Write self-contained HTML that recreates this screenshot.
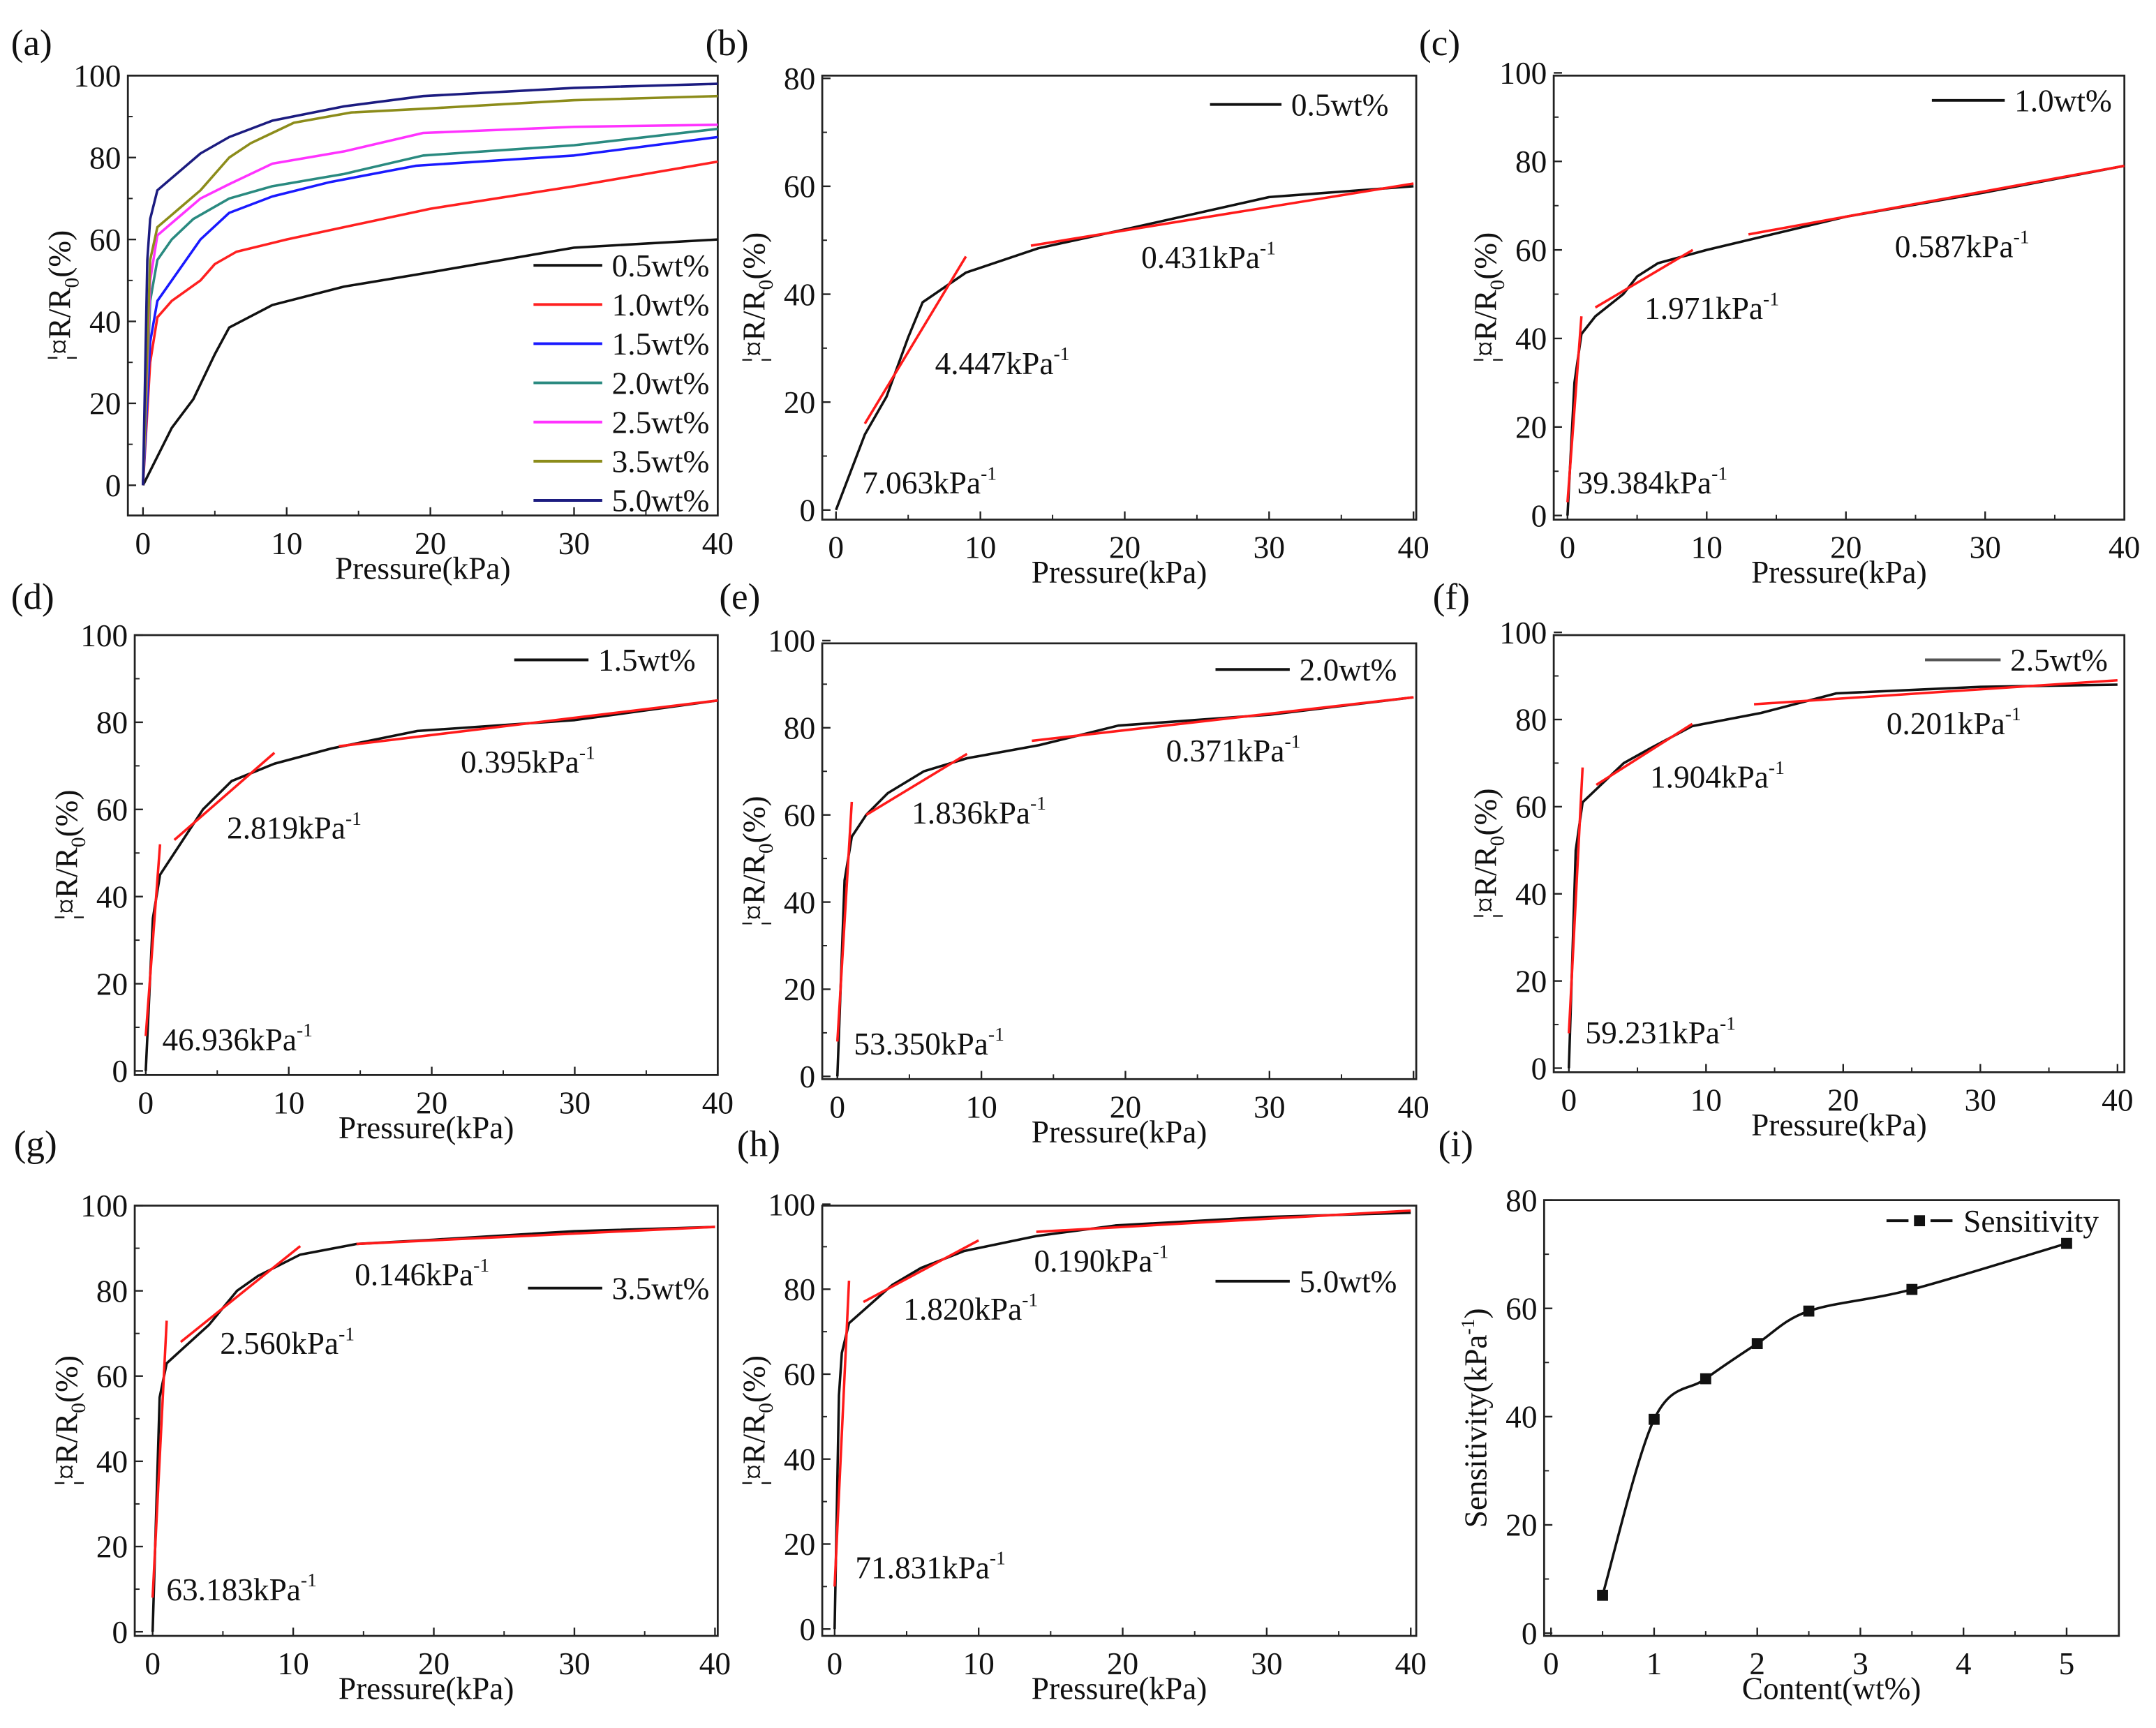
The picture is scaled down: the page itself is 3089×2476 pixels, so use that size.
<!DOCTYPE html>
<html><head><meta charset="utf-8"><style>
html,body{margin:0;padding:0;background:#fff}
svg{display:block}
svg text{font-family:"Liberation Serif","Times New Roman",serif !important;fill:#111}
</style></head><body>
<svg id="fig" width="3089" height="2476" viewBox="0 0 1568 1257" preserveAspectRatio="none" font-family="Liberation Serif, serif" xmlns="http://www.w3.org/2000/svg"></svg>
<script>
// ---- data ----
const seriesNames = ["0.5wt%","1.0wt%","1.5wt%","2.0wt%","2.5wt%","3.5wt%","5.0wt%"];
const seriesColors = ["#111","#ff2020","#1a1aff","#2a8a80","#ff33ff","#8c8c1a","#1c1c80"];
const p05x=[0,2,3.5,5,6,9,14,20,30,40];            const p05y=[0,14,21,32,38.5,44,48.5,52,58,60];
const p10x=[0,0.5,1,2,4,5,6.5,10,20,30,40];         const p10y=[0,30,41,45,50,54,57,60,67.5,73,79];
const p15x=[0,0.5,1,2,4,6,9,13,19,30,40];           const p15y=[0,35,45,50,60,66.5,70.5,74,78,80.5,85];
const p20x=[0,0.5,1,2,3.5,6,9,14,19.5,30,40];       const p20y=[0,45,55,60,65,70,73,76,80.5,83,87];
const p25x=[0,0.5,1,2,4,6,9,14,19.5,30,40];         const p25y=[0,50,61,64,70,73.5,78.5,81.5,86,87.5,88];
const p35x=[0,0.5,1,2,4,6,7.5,10.5,14.5,20,30,40];  const p35y=[0,55,63,66,72,80,83.5,88.5,91,92,94,95];
const p50x=[0,0.3,0.5,1,2,4,6,9,14,19.5,30,40];     const p50y=[0,55,65,72,75,81,85,89,92.5,95,97,98];
const allX=[p05x,p10x,p15x,p20x,p25x,p35x,p50x];
const allY=[p05y,p10y,p15y,p20y,p25y,p35y,p50y];
const fitsB=[[2,16,9,47],[13.5,49,40,60.5]];
const fitsC=[[0,3,1,45],[2,47,9,60],[13,63.5,40,79]];
const fitsD=[[0,8,1,52],[2,53,9,73],[13.5,74.5,40,85]];
const fitsE=[[0,8,1,63],[2,60,9,74],[13.5,77,40,87]];
const fitsF=[[0,8,1,69],[2,65,9,79],[13.5,83.5,40,89]];
const fitsG=[[0,8,1,73],[2,68,10.5,90.5],[14.5,91,40,95]];
const fitsH=[[0,10,1,82],[2,77,10,91.5],[14,93.5,40,98.5]];
const sensLabels={b:["7.063","4.447","0.431"],c:["39.384","1.971","0.587"],d:["46.936","2.819","0.395"],e:["53.350","1.836","0.371"],f:["59.231","1.904","0.201"],g:["63.183","2.560","0.146"],h:["71.831","1.820","0.190"]};
const contentX=[0.5,1,1.5,2,2.5,3.5,5];
const sensY=[7,39.5,47,53.5,59.5,63.5,72];
const pTicks=[0,10,20,30,40];
const rTicks=[0,20,40,60,80,100];
const rTicksB=[0,20,40,60,80];
const cTicks=[0,1,2,3,4,5];
const sTicks=[0,20,40,60,80];

const NS="http://www.w3.org/2000/svg";
const svg=document.getElementById('fig');
const FS=23;
function mk(tag,attrs,parent){const e=document.createElementNS(NS,tag);for(const k in attrs)e.setAttribute(k,attrs[k]);(parent||svg).appendChild(e);return e;}
function txt(s,x,y,size,parent,anchor){const t=mk('text',{x:x,y:y,'font-size':size,'font-family':'Liberation Serif, serif','text-anchor':anchor||'start'},parent);t.textContent=s;return t;}

function panel(o){
  const g=mk('g',{});
  
  
  const sx=v=>o.x0+(v-o.xa)/(o.xb-o.xa)*(o.x1-o.x0);
  const sy=v=>o.y0-(v-o.ya)/(o.yb-o.ya)*(o.y0-o.y1);
  const fr=mk('rect',{x:o.L,y:o.T,width:o.R-o.L,height:o.B-o.T,fill:'none',stroke:'#222','stroke-width':1.4},g);
  
  
  const xt=o.xt;const xstep=xt[1]-xt[0];
  for(let i=0;i<xt.length;i++){
    const v=xt[i];
    mk('line',{x1:sx(v),x2:sx(v),y1:o.B,y2:o.B-6,stroke:'#222','stroke-width':1.2},g);
    if(i<xt.length-1)mk('line',{x1:sx(v+xstep/2),x2:sx(v+xstep/2),y1:o.B,y2:o.B-3.5,stroke:'#222','stroke-width':1},g);
    const t=txt(String(v),sx(v),o.B+28,FS,g,'middle');
    
    
  }
  const yt=o.yt;const ystep=yt[1]-yt[0];
  for(let i=0;i<yt.length;i++){
    const v=yt[i];
    mk('line',{x1:o.L,x2:o.L+6,y1:sy(v),y2:sy(v),stroke:'#222','stroke-width':1.2},g);
    if(i<yt.length-1)mk('line',{x1:o.L,x2:o.L+3.5,y1:sy(v+ystep/2),y2:sy(v+ystep/2),stroke:'#222','stroke-width':1},g);
    const t=txt(String(v),o.L-5,sy(v)+8,FS,g,'end');
    
    
  }
  const xl=txt(o.xlabel,(o.L+o.R)/2,o.B+46,FS,g,'middle');
  
  
  const cy=(o.T+o.B)/2, cx=o.L-42;
  const yl=mk('text',{x:cx,y:cy,'font-size':FS,'font-family':'Liberation Serif, serif','text-anchor':'middle',transform:'rotate(-90 '+cx+' '+cy+')'},g);
  
  
  if(o.sens){yl.innerHTML='Sensitivity(kPa<tspan dy="-9" font-size="14">-1</tspan><tspan dy="9">)</tspan>';}
  else{yl.innerHTML='¦¤R/R<tspan dy="6" font-size="15">0</tspan><tspan dy="-6">(%)</tspan>';}
  const lt=txt('('+o.id+')',o.lx,o.ly,27,g);
  
  
  return {g,sx,sy};
}
function poly(g,sx,sy,xs,ys,color,name){
  let d='';for(let i=0;i<xs.length;i++)d+=(i?'L':'M')+sx(xs[i]).toFixed(2)+' '+sy(ys[i]).toFixed(2);
  const p=mk('path',{d:d,fill:'none',stroke:color,'stroke-width':1.8,'stroke-linejoin':'round'},g);
  
  
}
function kpa(g,val,x,y){
  const t=mk('text',{x:x,y:y,'font-size':FS,'font-family':'Liberation Serif, serif'},g);
  t.innerHTML=val+'kPa<tspan dy="-10" font-size="14">-1</tspan>';
  
  
}
function legend(g,x1,x2,y,label,color){
  const l=mk('line',{x1:x1,x2:x2,y1:y,y2:y,stroke:color,'stroke-width':2},g);
  
  
  const t=txt(label,x2+7,y+8,FS,g);
  
  
}

{const o={id:'a',L:93,R:522,T:55,B:375,x0:104,x1:522,xa:0,xb:40,y0:353,y1:55,ya:0,yb:100,xt:pTicks,yt:rTicks,xlabel:'Pressure(kPa)',lx:8,ly:40};
 const P=panel(o);
 for(let i=0;i<seriesNames.length;i++)poly(P.g,P.sx,P.sy,allX[i],allY[i],seriesColors[i],'series-'+seriesNames[i].replace('%','').replace('.','-'));
 for(let i=0;i<seriesNames.length;i++)legend(P.g,388,438,193+i*28.5,seriesNames[i],seriesColors[i]);
}
function single(o,i,fits,lab,pos,legPos){
  const P=panel(o);
  poly(P.g,P.sx,P.sy,allX[i],allY[i],'#111','series-'+seriesNames[i].replace('%','').replace('.','-'));
  for(const f of fits){const l=mk('line',{x1:P.sx(f[0]),y1:P.sy(f[1]),x2:P.sx(f[2]),y2:P.sy(f[3]),stroke:'#ff1a1a','stroke-width':1.8},P.g);
    
    }
  for(let k=0;k<3;k++)kpa(P.g,lab[k],pos[k][0],pos[k][1]);
  legend(P.g,legPos[0],legPos[1],legPos[2],seriesNames[i],i==4?'#555':'#111');
}
single({id:'b',L:598,R:1030,T:55,B:378,x0:608,x1:1028,xa:0,xb:40,y0:371,y1:57,ya:0,yb:80,xt:pTicks,yt:rTicksB,xlabel:'Pressure(kPa)',lx:513,ly:40},0,fitsB,sensLabels.b,[[627,359],[680,272],[830,195]],[880,932,76]);
single({id:'c',L:1130,R:1545,T:55,B:378,x0:1140,x1:1545,xa:0,xb:40,y0:375,y1:53,ya:0,yb:100,xt:pTicks,yt:rTicks,xlabel:'Pressure(kPa)',lx:1032,ly:40},1,fitsC,sensLabels.c,[[1147,359],[1196,232],[1378,187]],[1405,1458,73]);
single({id:'d',L:98,R:522,T:462,B:782,x0:106,x1:522,xa:0,xb:40,y0:779,y1:462,ya:0,yb:100,xt:pTicks,yt:rTicks,xlabel:'Pressure(kPa)',lx:8,ly:443},2,fitsD,sensLabels.d,[[118,764],[165,610],[335,562]],[374,428,480]);
single({id:'e',L:598,R:1030,T:468,B:785,x0:609,x1:1028,xa:0,xb:40,y0:783,y1:466,ya:0,yb:100,xt:pTicks,yt:rTicks,xlabel:'Pressure(kPa)',lx:523,ly:443},3,fitsE,sensLabels.e,[[621,767],[663,599],[848,554]],[884,938,487]);
single({id:'f',L:1130,R:1545,T:462,B:780,x0:1141,x1:1540,xa:0,xb:40,y0:777,y1:460,ya:0,yb:100,xt:pTicks,yt:rTicks,xlabel:'Pressure(kPa)',lx:1042,ly:443},4,fitsF,sensLabels.f,[[1153,759],[1200,573],[1372,534]],[1400,1455,480]);
single({id:'g',L:98,R:522,T:877,B:1190,x0:111,x1:520,xa:0,xb:40,y0:1187,y1:877,ya:0,yb:100,xt:pTicks,yt:rTicks,xlabel:'Pressure(kPa)',lx:10,ly:841},5,fitsG,sensLabels.g,[[121,1164],[160,985],[258,935]],[384,438,937]);
single({id:'h',L:598,R:1030,T:877,B:1190,x0:607,x1:1026,xa:0,xb:40,y0:1185,y1:876,ya:0,yb:100,xt:pTicks,yt:rTicks,xlabel:'Pressure(kPa)',lx:536,ly:841},6,fitsH,sensLabels.h,[[622,1148],[657,960],[752,925]],[884,938,932]);
{const o={id:'i',L:1123,R:1541,T:873,B:1190,x0:1128,x1:1503,xa:0,xb:5,y0:1188,y1:873,ya:0,yb:80,xt:cTicks,yt:sTicks,xlabel:'Content(wt%)',lx:1046,ly:841,sens:true};
 const P=panel(o);
 const pts=contentX.map((x,i)=>[P.sx(x),P.sy(sensY[i])]);
 let d='M'+pts[0][0]+' '+pts[0][1];
 for(let i=0;i<pts.length-1;i++){const p0=pts[Math.max(0,i-1)],p1=pts[i],p2=pts[i+1],p3=pts[Math.min(pts.length-1,i+2)];
   d+=' C'+(p1[0]+(p2[0]-p0[0])/6)+' '+(p1[1]+(p2[1]-p0[1])/6)+' '+(p2[0]-(p3[0]-p1[0])/6)+' '+(p2[1]-(p3[1]-p1[1])/6)+' '+p2[0]+' '+p2[1];}
 const c=mk('path',{d:d,fill:'none',stroke:'#111','stroke-width':1.8},P.g);
 
 
 for(const p of pts){const r=mk('rect',{x:p[0]-4,y:p[1]-4,width:8,height:8,fill:'#111'},P.g);
   
   }
 const l1=mk('path',{d:'M1372 888 H1388 M1404 888 H1420',stroke:'#111','stroke-width':2},P.g);
 
 
 const sq=mk('rect',{x:1392,y:884,width:8,height:8,fill:'#111'},P.g);
 
 
 const lt=txt('Sensitivity',1428,896,FS,P.g);
 
 
}
</script>
</body></html>
